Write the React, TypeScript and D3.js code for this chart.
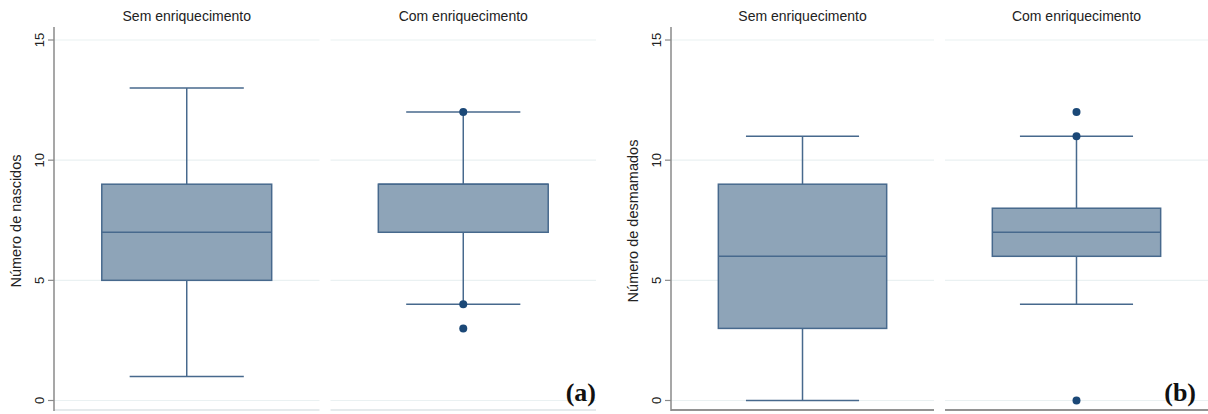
import React from "react";
import * as d3 from "d3";

const groups = ["Sem enriquecimento", "Com enriquecimento"];
const yTicks = [0, 5, 10, 15];

// [low whisker, q1, median, q3, high whisker]
const nascidosStats = [
  [1, 5, 7, 9, 13],
  [4, 7, 9, 9, 12],
];
const nascidosOutliers = [[], [12, 4, 3]];

const desmamadosStats = [
  [0, 3, 6, 9, 11],
  [4, 6, 7, 8, 11],
];
const desmamadosOutliers = [[], [12, 11, 0]];

const panels = [
  { title: "Número de nascidos", tag: "(a)", tagX: 596, stats: nascidosStats, outliers: nascidosOutliers, x0: 54, x1: 596, bottom: "#dde3e6" },
  { title: "Número de desmamados", tag: "(b)", tagX: 1196, stats: desmamadosStats, outliers: desmamadosOutliers, x0: 671, x1: 1208, bottom: "#6f6f6f" },
];

const fill = "#8ea4b8";
const stroke = "#47698d";
const dot = "#1b4877";
const sans = "'Liberation Sans', Arial, sans-serif";

const y = d3.scaleLinear().domain([0, 15]).range([400.5, 40]);

function Panel({ p }) {
  const x = d3.scaleBand().domain(groups).range([p.x0, p.x1]).paddingInner(0.04);
  const bw = x.bandwidth();
  return (
    <g>
      {groups.map((g, i) => {
        const left = x(g);
        const cx = left + bw / 2;
        const [lo, q1, med, q3, hi] = p.stats[i];
        const boxW = bw * 0.64;
        const capW = bw * 0.43;
        return (
          <g key={g}>
            {yTicks.map((t) => (
              <line key={t} x1={left} x2={left + bw} y1={y(t)} y2={y(t)} stroke="#eaf1f2" strokeWidth={1.2} />
            ))}
            <line x1={left} x2={left + bw} y1={410} y2={410} stroke={p.bottom} strokeWidth={1.5} />
            <text x={cx} y={21} textAnchor="middle" fontFamily={sans} fontSize={14} fill="#222">{g}</text>
            <line x1={cx} x2={cx} y1={y(hi)} y2={y(q3)} stroke={stroke} strokeWidth={1.5} />
            <line x1={cx} x2={cx} y1={y(q1)} y2={y(lo)} stroke={stroke} strokeWidth={1.5} />
            <line x1={cx - capW / 2} x2={cx + capW / 2} y1={y(hi)} y2={y(hi)} stroke={stroke} strokeWidth={1.5} />
            <line x1={cx - capW / 2} x2={cx + capW / 2} y1={y(lo)} y2={y(lo)} stroke={stroke} strokeWidth={1.5} />
            <rect x={cx - boxW / 2} y={y(q3)} width={boxW} height={y(q1) - y(q3)} fill={fill} stroke={stroke} strokeWidth={1.5} />
            <line x1={cx - boxW / 2} x2={cx + boxW / 2} y1={y(med)} y2={y(med)} stroke={stroke} strokeWidth={1.5} />
            {p.outliers[i].map((v, k) => (
              <circle key={k} cx={cx} cy={y(v)} r={4} fill={dot} />
            ))}
          </g>
        );
      })}
      <line x1={p.x0} x2={p.x0} y1={27} y2={411} stroke="#8a8a8a" strokeWidth={1.5} />
      {yTicks.map((t) => (
        <g key={t} transform={`translate(${p.x0},${y(t)})`}>
          <line x1={-6} x2={0} stroke="#8a8a8a" strokeWidth={1.2} />
          <text transform="translate(-10,0) rotate(-90)" textAnchor="middle" fontFamily={sans} fontSize={13} fill="#222">{t}</text>
        </g>
      ))}
      <text transform={`translate(${p.x0 - 33},221) rotate(-90)`} textAnchor="middle" fontFamily={sans} fontSize={14.5} fill="#222">{p.title}</text>
      <text x={p.tagX} y={401} textAnchor="end" fontFamily="'Liberation Serif', 'Times New Roman', serif" fontWeight="bold" fontSize={26} fill="#111">{p.tag}</text>
    </g>
  );
}

export default function App() {
  return (
    <svg width={1208} height={414} style={{ position: "absolute", left: 0, top: 0, background: "#fff" }}>
      {panels.map((p) => (
        <Panel key={p.tag} p={p} />
      ))}
    </svg>
  );
}
